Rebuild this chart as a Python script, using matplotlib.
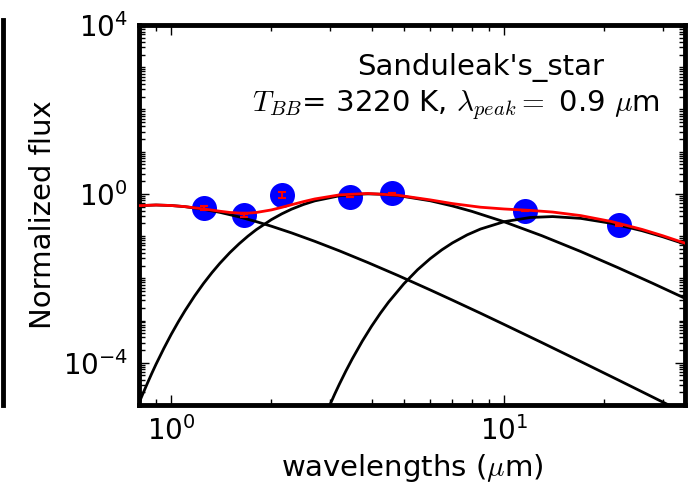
import numpy as np
import matplotlib
matplotlib.use("Agg")
import matplotlib.pyplot as plt
from matplotlib.ticker import LogLocator, NullFormatter, FixedLocator
from matplotlib.lines import Line2D

# photometry (microns, normalized flux)
wl_obs = [1.25, 1.65, 2.15, 3.45, 4.6, 11.6, 22.1]
flux_obs = [0.463, 0.316, 0.94, 0.845, 1.05, 0.393, 0.183]
err_obs = [0.045, 0.025, 0.15, 0.01, 0.005, 0.005, 0.005]

# hot component
wl_bb1 = [0.8, 0.9, 1.0, 1.1, 1.25, 1.4, 1.6, 1.8, 2.0, 2.3, 2.7, 3.2, 3.9, 4.8, 6.0,
          7.0, 8.5, 10.0, 13.0, 17.0, 22.0, 27.0, 32.0, 35.0]
flux_bb1 = [0.526, 0.545, 0.530, 0.497, 0.432, 0.365, 0.285, 0.2205, 0.1714, 0.1189,
            0.0752, 0.0448, 0.0236, 0.01168, 0.00531, 0.00304, 0.00149, 8.1e-4,
            3.0e-4, 1.07e-4, 3.94e-5, 1.77e-5, 9.1e-6, 6.4e-6]

# warm component
wl_bb2 = [0.8, 0.82, 0.85, 0.875, 0.9, 0.95, 1.0, 1.05, 1.1, 1.175, 1.25, 1.325, 1.4,
          1.5, 1.6, 1.7, 1.8, 2.0, 2.15, 2.3, 2.5, 2.7, 3.2, 3.5, 3.9, 4.3, 4.8, 6.0,
          7.0, 8.0, 10.0, 13.0, 17.0, 22.0, 28.0, 35.0]
flux_bb2 = [1.12e-5, 1.78e-5, 3.43e-5, 5.72e-5, 9.23e-5, 2.19e-4, 4.73e-4, 9.33e-4,
            1.715e-3, 3.81e-3, 7.55e-3, 0.01361, 0.0227, 0.0406, 0.066, 0.0997, 0.1416,
            0.246, 0.3374, 0.435, 0.563, 0.683, 0.900, 0.969, 1.0, 0.980, 0.912, 0.687,
            0.517, 0.386, 0.219, 0.102, 0.0432, 0.0179, 7.6e-3, 3.36e-3]

# cold component
wl_bb3 = [2.9, 3.0, 3.1, 3.2, 3.35, 3.5, 3.75, 4.0, 4.25, 4.5, 5.0, 5.5, 6.0, 6.5, 7.0,
          7.75, 8.5, 10.0, 12.0, 14.0, 17.0, 21.0, 26.0, 30.0, 35.0]
flux_bb3 = [5.5e-6, 1.02e-5, 1.82e-5, 3.1e-5, 6.43e-5, 1.24e-4, 3.24e-4, 7.35e-4,
            1.486e-3, 2.74e-3, 7.4e-3, 0.016, 0.0292, 0.0471, 0.069, 0.107, 0.147,
            0.219, 0.276, 0.29, 0.263, 0.201, 0.134, 0.0964, 0.0647]

# total
wl_tot = [0.8, 0.9, 1.0, 1.1, 1.25, 1.4, 1.5, 1.6, 1.7, 1.8, 2.0, 2.15, 2.3, 2.5, 2.7,
          3.2, 3.9, 4.8, 6.0, 7.0, 8.5, 10.0, 12.0, 14.0, 17.0, 21.0, 26.0, 30.0, 35.0]
flux_tot = [0.526, 0.545, 0.530, 0.499, 0.440, 0.388, 0.363, 0.351, 0.350, 0.362, 0.417,
            0.480, 0.554, 0.657, 0.758, 0.945, 1.024, 0.929, 0.721, 0.589, 0.483, 0.439,
            0.406, 0.371, 0.306, 0.222, 0.144, 0.102, 0.068]

name = "Sanduleak's_star"
t_bb = 3220
lam_peak = 0.9

fig = plt.figure(figsize=(7, 4.91), dpi=100)
ax = fig.add_axes([0.1986, 0.1752, 0.78, 0.7739])

ax.plot(wl_obs, flux_obs, 'o', color='b', ms=18, mec='none', zorder=2)
ax.errorbar(wl_obs, flux_obs, yerr=err_obs, fmt='none', ecolor='r', elinewidth=1.5,
            capsize=3, capthick=1.5, zorder=5)
for w, f in [(wl_bb1, flux_bb1), (wl_bb2, flux_bb2), (wl_bb3, flux_bb3)]:
    ax.plot(w, f, 'k-', lw=2, zorder=3)
ax.plot(wl_tot, flux_tot, 'r-', lw=2, zorder=4)

ax.set_xscale('log')
ax.set_yscale('log')
ax.set_xlim(0.8, 35)
ax.set_ylim(1e-5, 1e4)

ax.yaxis.set_major_locator(FixedLocator([1e-4, 1e0, 1e4]))
ax.set_yticklabels(['$10^{-4}$', '$10^{0}$', '$10^{4}$'])
ax.yaxis.set_minor_locator(LogLocator(base=10, subs=np.arange(1, 10), numticks=100))
ax.yaxis.set_minor_formatter(NullFormatter())
ax.xaxis.set_minor_locator(LogLocator(base=10, subs=np.arange(2, 10), numticks=100))
ax.xaxis.set_minor_formatter(NullFormatter())

ax.tick_params(which='both', direction='in', top=True, right=True)
ax.tick_params(which='major', length=7, width=1, labelsize=20, pad=8)
ax.tick_params(which='minor', length=4, width=1)
for s in ax.spines.values():
    s.set_linewidth(3.5)

ax.set_xlabel(r'wavelengths ($\mu$m)', fontsize=21, math_fontfamily='cm')
ax.set_ylabel('Normalized flux', fontsize=21)

ax.text(0.625, 0.889, name, transform=ax.transAxes, fontsize=21,
        ha='center', va='center')
ax.text(0.58, 0.789, r'$T_{BB}$= %d K, $\lambda_{peak}=$ %.1f $\mu$m' % (t_bb, lam_peak),
        transform=ax.transAxes, fontsize=21, ha='center', va='center',
        math_fontfamily='cm')

# edge of the neighbouring panel
fig.add_artist(Line2D([0.004, 0.004], [0.175, 0.959], color='k', lw=3.5,
                      transform=fig.transFigure))

fig.savefig('out.png', dpi=100)
